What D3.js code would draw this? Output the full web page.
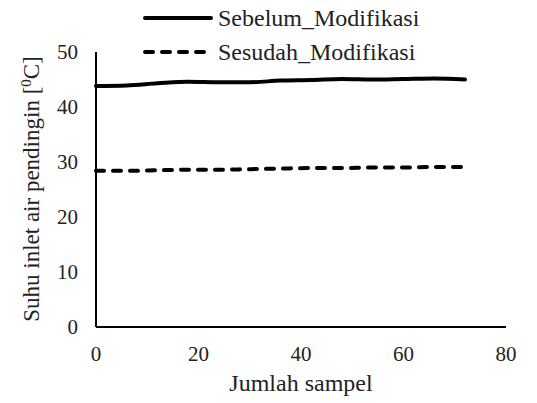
<!DOCTYPE html>
<html>
<head>
<meta charset="utf-8">
<script src="https://cdn.jsdelivr.net/npm/d3@7"></script>
<style>
  body { margin: 0; background: #fff; }
</style>
</head>
<body>
<svg id="chart" width="537" height="403" font-family="Liberation Serif, DejaVu Serif, serif"></svg>
<script>
const SAMPLES = [0, 6, 12, 18, 24, 30, 36, 42, 48, 54, 60, 66, 72];
const SEBELUM = [43.8, 43.9, 44.3, 44.6, 44.5, 44.5, 44.8, 44.9, 45.1, 45.0, 45.1, 45.2, 45.0];
const SESUDAH = [28.4, 28.4, 28.5, 28.6, 28.6, 28.7, 28.8, 28.9, 28.9, 29.0, 29.0, 29.1, 29.1];
const X_TICKS = [0, 20, 40, 60, 80];
const Y_TICKS = [0, 10, 20, 30, 40, 50];
const SERIES = [
  { name: "Sebelum_Modifikasi", values: SEBELUM, dash: null },
  { name: "Sesudah_Modifikasi", values: SESUDAH, dash: "8,9" }
];

const svg = d3.select("#chart");
const x = d3.scaleLinear().domain([0, 80]).range([96, 506]);
const y = d3.scaleLinear().domain([0, 50]).range([327, 52]);

// axes (no tick marks, just labels)
svg.append("line")
  .attr("x1", x(0)).attr("x2", x(0))
  .attr("y1", y(50)).attr("y2", y(0))
  .attr("stroke", "#000").attr("stroke-width", 2);
svg.append("line")
  .attr("x1", x(0)).attr("x2", x(80))
  .attr("y1", y(0)).attr("y2", y(0))
  .attr("stroke", "#000").attr("stroke-width", 2);

svg.selectAll(".ytick")
  .data(Y_TICKS)
  .join("text")
  .attr("class", "ytick")
  .attr("x", 78)
  .attr("y", d => y(d))
  .attr("dy", "0.33em")
  .attr("text-anchor", "end")
  .attr("font-size", 21)
  .attr("fill", "#222")
  .text(d => d);

svg.selectAll(".xtick")
  .data(X_TICKS)
  .join("text")
  .attr("class", "xtick")
  .attr("x", d => x(d))
  .attr("y", 361)
  .attr("text-anchor", "middle")
  .attr("font-size", 21)
  .attr("fill", "#222")
  .text(d => d);

svg.append("text")
  .attr("x", 301)
  .attr("y", 391)
  .attr("text-anchor", "middle")
  .attr("font-size", 24)
  .attr("fill", "#222")
  .text("Jumlah sampel");

const yt = svg.append("text")
  .attr("transform", "translate(39,189) rotate(-90)")
  .attr("text-anchor", "middle")
  .attr("font-size", 23)
  .attr("fill", "#222");
yt.append("tspan").text("Suhu inlet air pendingin [");
yt.append("tspan").attr("dy", -8).attr("font-size", 15).text("0");
yt.append("tspan").attr("dy", 8).text("C]");

const line = d3.line()
  .x((d, i) => x(SAMPLES[i]))
  .y(d => y(d))
  .curve(d3.curveMonotoneX);

svg.selectAll(".series")
  .data(SERIES)
  .join("path")
  .attr("class", "series")
  .attr("fill", "none")
  .attr("stroke", "#000")
  .attr("stroke-width", 4)
  .attr("stroke-linecap", "round")
  .attr("stroke-dasharray", d => d.dash)
  .attr("d", d => line(d.values));

// legend
const lg = svg.selectAll(".legend")
  .data(SERIES)
  .join("g")
  .attr("class", "legend")
  .attr("transform", (d, i) => `translate(145,${18 + i * 34})`);
lg.append("line")
  .attr("x1", 0).attr("x2", 66)
  .attr("stroke", "#000").attr("stroke-width", 4)
  .attr("stroke-linecap", "round")
  .attr("stroke-dasharray", d => d.dash);
lg.append("text")
  .attr("x", 73)
  .attr("dy", "0.33em")
  .attr("font-size", 24)
  .attr("fill", "#222")
  .text(d => d.name);
</script>
</body>
</html>
